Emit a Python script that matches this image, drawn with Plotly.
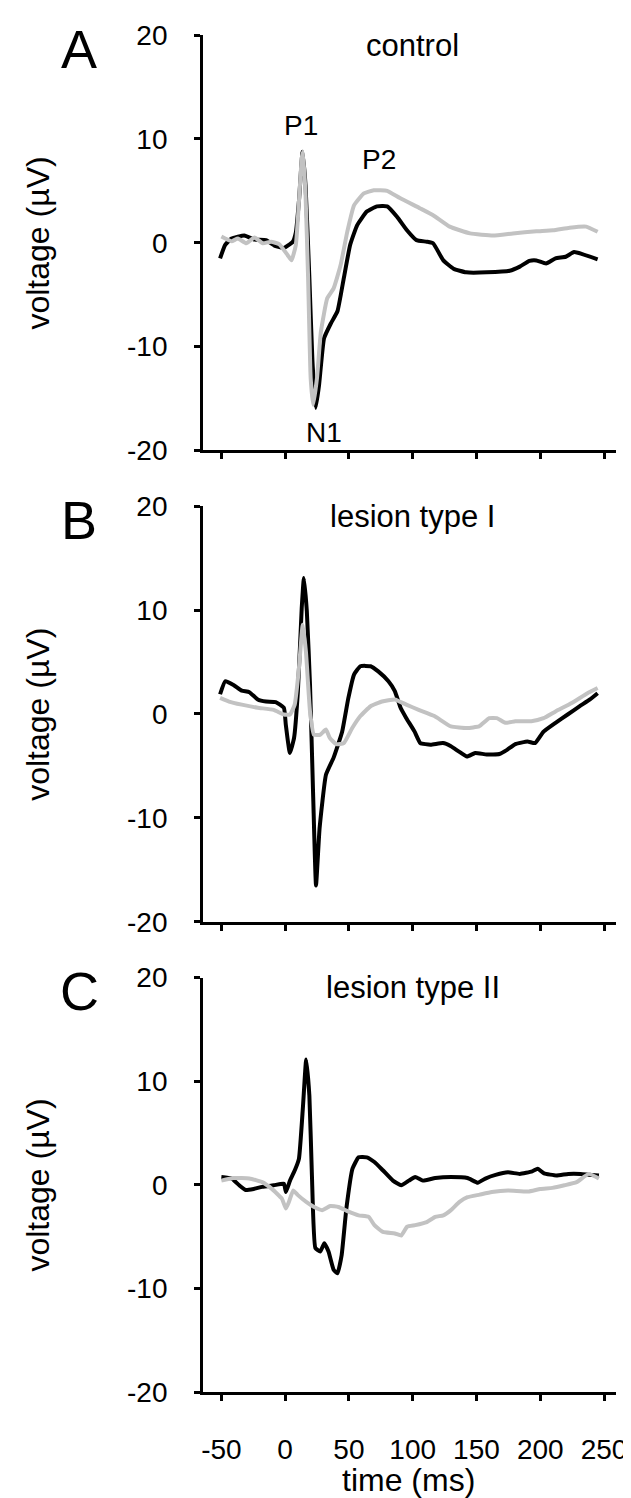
import plotly.graph_objects as go

# ---------------- data ----------------
# Panel A: control
a_black_t = [-51, -47, -42, -32, -24, -15, -8, -1, 6, 8.4, 11, 13.6, 16, 19, 21.4, 24, 26.6, 30.5, 35.7, 41, 46, 51, 56.5, 64, 72, 80, 87.7, 95.5, 103, 111, 116, 124, 132, 142, 158, 176, 184, 191.5, 197, 204.5, 212, 220, 226.5, 233, 245]
a_black_v = [-1.5, -0.2, 0.4, 0.7, 0.3, 0.25, -0.3, -0.5, 0.1, 1.0, 4.3, 8.75, 5.5, -3.4, -11.4, -15.9, -13.7, -9.2, -7.8, -6.6, -3.4, -0.2, 1.7, 3.0, 3.5, 3.5, 2.5, 1.2, 0.25, 0.1, -0.05, -1.7, -2.5, -2.85, -2.85, -2.7, -2.3, -1.75, -1.7, -2.0, -1.5, -1.35, -0.9, -1.1, -1.6]
a_gray_t = [-50, -42, -37, -30.5, -24, -17.5, -11, -4.5, 2, 5, 8.4, 11, 13, 14, 16, 18, 20, 22, 25, 28, 33, 38, 43.5, 48.7, 54, 61.7, 69.5, 80, 90, 106, 116, 129, 145, 163, 178.5, 197, 210, 223, 236, 245]
a_gray_v = [0.6, 0.15, 0.4, -0.05, 0.5, -0.05, 0.1, -0.15, -1.2, -1.7, -0.2, 4.3, 8.1, 8.75, 4.6, -3.4, -13.0, -15.6, -13.0, -8.6, -5.35, -4.4, -2.15, 1.05, 3.6, 4.75, 5.05, 5.0, 4.3, 3.3, 2.65, 1.55, 0.9, 0.7, 0.9, 1.1, 1.2, 1.45, 1.55, 1.05]

# Panel B: lesion type I
b_black_t = [-51, -47, -40.5, -34, -28, -21.5, -15, -7.4, -1, 0.5, 3.7, 7, 10, 13, 14.7, 17, 19.5, 22, 24.2, 27, 32, 38, 44.7, 49.5, 54, 59, 67, 73, 81, 86, 90.5, 95, 101.5, 106, 114, 123.7, 130, 136, 142.6, 149, 158, 168, 174, 180.5, 190, 196, 202.6, 212, 221.5, 231, 239, 245]
b_black_v = [1.9, 3.15, 2.8, 2.25, 2.1, 1.4, 1.2, 1.15, 0.6, -1.0, -3.75, -2.3, 2.2, 10.2, 13.1, 9.9, 2.8, -8.0, -16.5, -11.0, -5.85, -4.2, -1.7, 1.5, 3.8, 4.6, 4.6, 4.1, 3.15, 2.2, 0.6, -0.4, -1.7, -2.8, -2.95, -2.8, -3.1, -3.6, -4.1, -3.75, -3.9, -3.85, -3.45, -2.9, -2.65, -2.8, -1.7, -0.85, -0.05, 0.75, 1.4, 2.0]
b_gray_t = [-51, -44, -34, -21.5, -9, -1, 3.7, 7.5, 10.6, 13.8, 16.3, 19.5, 22.6, 27.4, 32, 35, 40, 46, 52.6, 59, 67, 76, 86, 95, 104.7, 117, 130, 142.6, 152, 160, 166, 172.6, 180.5, 193, 202.6, 212, 224.7, 237, 245]
b_gray_v = [1.55, 1.2, 0.9, 0.6, 0.4, -0.05, -0.05, 0.9, 4.1, 8.6, 6.0, 0.25, -2.0, -2.0, -1.5, -2.3, -2.9, -2.8, -1.35, -0.2, 0.75, 1.2, 1.4, 0.9, 0.4, -0.2, -1.2, -1.35, -1.2, -0.4, -0.4, -0.85, -0.7, -0.7, -0.4, 0.25, 1.05, 2.0, 2.5]

# Panel C: lesion type II
c_black_t = [-50, -42, -36, -31, -24.7, -18, -9, -1, 0.6, 3.8, 7.6, 10.8, 14, 16.5, 19, 21, 23.7, 27.5, 30.7, 34, 38, 41, 44.3, 48, 52.8, 57.6, 64, 70, 76.6, 84.5, 91, 97, 102, 108, 117.7, 130, 143, 151, 157, 165, 174.7, 184, 193.7, 198, 203, 212.7, 222, 231.6, 246]
c_black_v = [0.75, 0.6, -0.05, -0.5, -0.4, -0.2, -0.05, 0.1, -0.7, 0.4, 1.4, 2.5, 7.6, 12.1, 8.6, 0.9, -6.1, -6.45, -5.65, -6.45, -8.2, -8.55, -6.8, -2.3, 1.55, 2.65, 2.65, 2.2, 1.4, 0.4, -0.05, 0.4, 0.75, 0.4, 0.65, 0.75, 0.65, 0.2, 0.6, 0.95, 1.2, 1.05, 1.3, 1.55, 1.1, 0.9, 1.05, 1.05, 0.9]
c_gray_t = [-50, -40.5, -28, -18, -10.4, -2.5, 0.6, 3, 6.3, 10, 16.5, 22.8, 29, 35.4, 41.8, 49.7, 57.6, 65.5, 70, 76.6, 86, 91, 95.6, 102, 111, 117.7, 124, 130, 136.7, 143, 152.5, 162, 174.7, 190.5, 200, 209.5, 219, 228.5, 238, 246]
c_gray_v = [0.4, 0.65, 0.6, 0.25, -0.4, -1.35, -2.3, -1.65, -0.55, -1.0, -1.65, -2.15, -2.45, -2.05, -2.15, -2.6, -2.95, -3.1, -3.9, -4.55, -4.7, -4.9, -4.05, -3.9, -3.6, -3.1, -2.95, -2.45, -1.65, -1.2, -0.95, -0.7, -0.55, -0.65, -0.4, -0.3, -0.05, 0.25, 1.05, 0.6]

panel_titles = ["control", "lesion type I", "lesion type II"]
panel_letters = ["A", "B", "C"]
x_ticks = [-50, 0, 50, 100, 150, 200, 250]
y_ticks = [-20, -10, 0, 10, 20]

# ---------------- figure ----------------
FONT = "Liberation Sans, Arial, sans-serif"
BLACK = "#000000"
GRAY = "#c2c2c2"
LW = 4.0

panels = [
    (a_black_t, a_black_v, a_gray_t, a_gray_v),
    (b_black_t, b_black_v, b_gray_t, b_gray_v),
    (c_black_t, c_black_v, c_gray_t, c_gray_v),
]

fig = go.Figure()
for i, (bt, bv, gt, gv) in enumerate(panels):
    xa = "x" if i == 0 else f"x{i+1}"
    ya = "y" if i == 0 else f"y{i+1}"
    fig.add_trace(go.Scatter(x=bt, y=bv, mode="lines", xaxis=xa, yaxis=ya,
                             line=dict(color=BLACK, width=LW, shape="spline", smoothing=0.4),
                             showlegend=False, hoverinfo="skip"))
    fig.add_trace(go.Scatter(x=gt, y=gv, mode="lines", xaxis=xa, yaxis=ya,
                             line=dict(color=GRAY, width=LW, shape="spline", smoothing=0.4),
                             showlegend=False, hoverinfo="skip"))

domains = [[0.69383, 1.0], [0.34655, 0.65272], [0.0, 0.30543]]
layout = dict(
    width=631, height=1498,
    margin=dict(l=195, r=21, t=22, b=114),
    paper_bgcolor="white", plot_bgcolor="white",
    font=dict(family=FONT, color="black"),
    showlegend=False,
)
for i in range(3):
    xk = "xaxis" if i == 0 else f"xaxis{i+1}"
    yk = "yaxis" if i == 0 else f"yaxis{i+1}"
    ya = "y" if i == 0 else f"y{i+1}"
    xa = "x" if i == 0 else f"x{i+1}"
    layout[xk] = dict(
        range=[-64.4, 259.4], anchor=ya, tickvals=x_ticks,
        ticktext=[str(v) for v in x_ticks],
        showticklabels=(i == 2), ticks="outside", ticklen=6, tickwidth=2.5,
        tickcolor="black", showline=True, linecolor="black", linewidth=2.8,
        showgrid=False, zeroline=False, tickfont=dict(size=28, family=FONT),
        ticklabelstandoff=24,
    )
    layout[yk] = dict(
        range=[-20, 20], domain=domains[i], anchor=xa, tickvals=y_ticks,
        ticktext=[str(v) for v in y_ticks],
        ticks="outside", ticklen=6, tickwidth=2.5, tickcolor="black",
        showline=True, linecolor="black", linewidth=2.8, showgrid=False,
        zeroline=False, tickfont=dict(size=28, family=FONT), ticklabelstandoff=21,
    )
fig.update_layout(**layout)

ann = []
for i in range(3):
    xa = "x" if i == 0 else f"x{i+1}"
    ya = "y" if i == 0 else f"y{i+1}"
    ann.append(dict(text=panel_titles[i], x=100, y=19.0, xref=xa, yref=ya,
                    xanchor="center", yanchor="middle",
                    showarrow=False, font=dict(size=31, family=FONT)))
    ann.append(dict(text=panel_letters[i], x=-0.30, y=18.7, xref="paper", yref=ya,
                    xanchor="center", yanchor="middle",
                    showarrow=False, font=dict(size=54, family=FONT)))
    ann.append(dict(text="voltage (µV)", x=-0.40, y=0, xref="paper", yref=ya,
                    xanchor="center", yanchor="middle",
                    textangle=-90, showarrow=False, font=dict(size=32, family=FONT)))
ann.append(dict(text="P1", x=12.7, y=11.3, xref="x", yref="y", showarrow=False,
                xanchor="center", yanchor="middle", font=dict(size=28, family=FONT)))
ann.append(dict(text="P2", x=73.5, y=8.0, xref="x", yref="y", showarrow=False,
                xanchor="center", yanchor="middle", font=dict(size=28, family=FONT)))
ann.append(dict(text="N1", x=30.6, y=-18.3, xref="x", yref="y", showarrow=False,
                xanchor="center", yanchor="middle", font=dict(size=28, family=FONT)))
ann.append(dict(text="time (ms)", x=96.9, y=-0.0645, xref="x3", yref="paper",
                xanchor="center", yanchor="middle",
                showarrow=False, font=dict(size=32, family=FONT)))
fig.update_layout(annotations=ann)

fig.write_html("out.html")
